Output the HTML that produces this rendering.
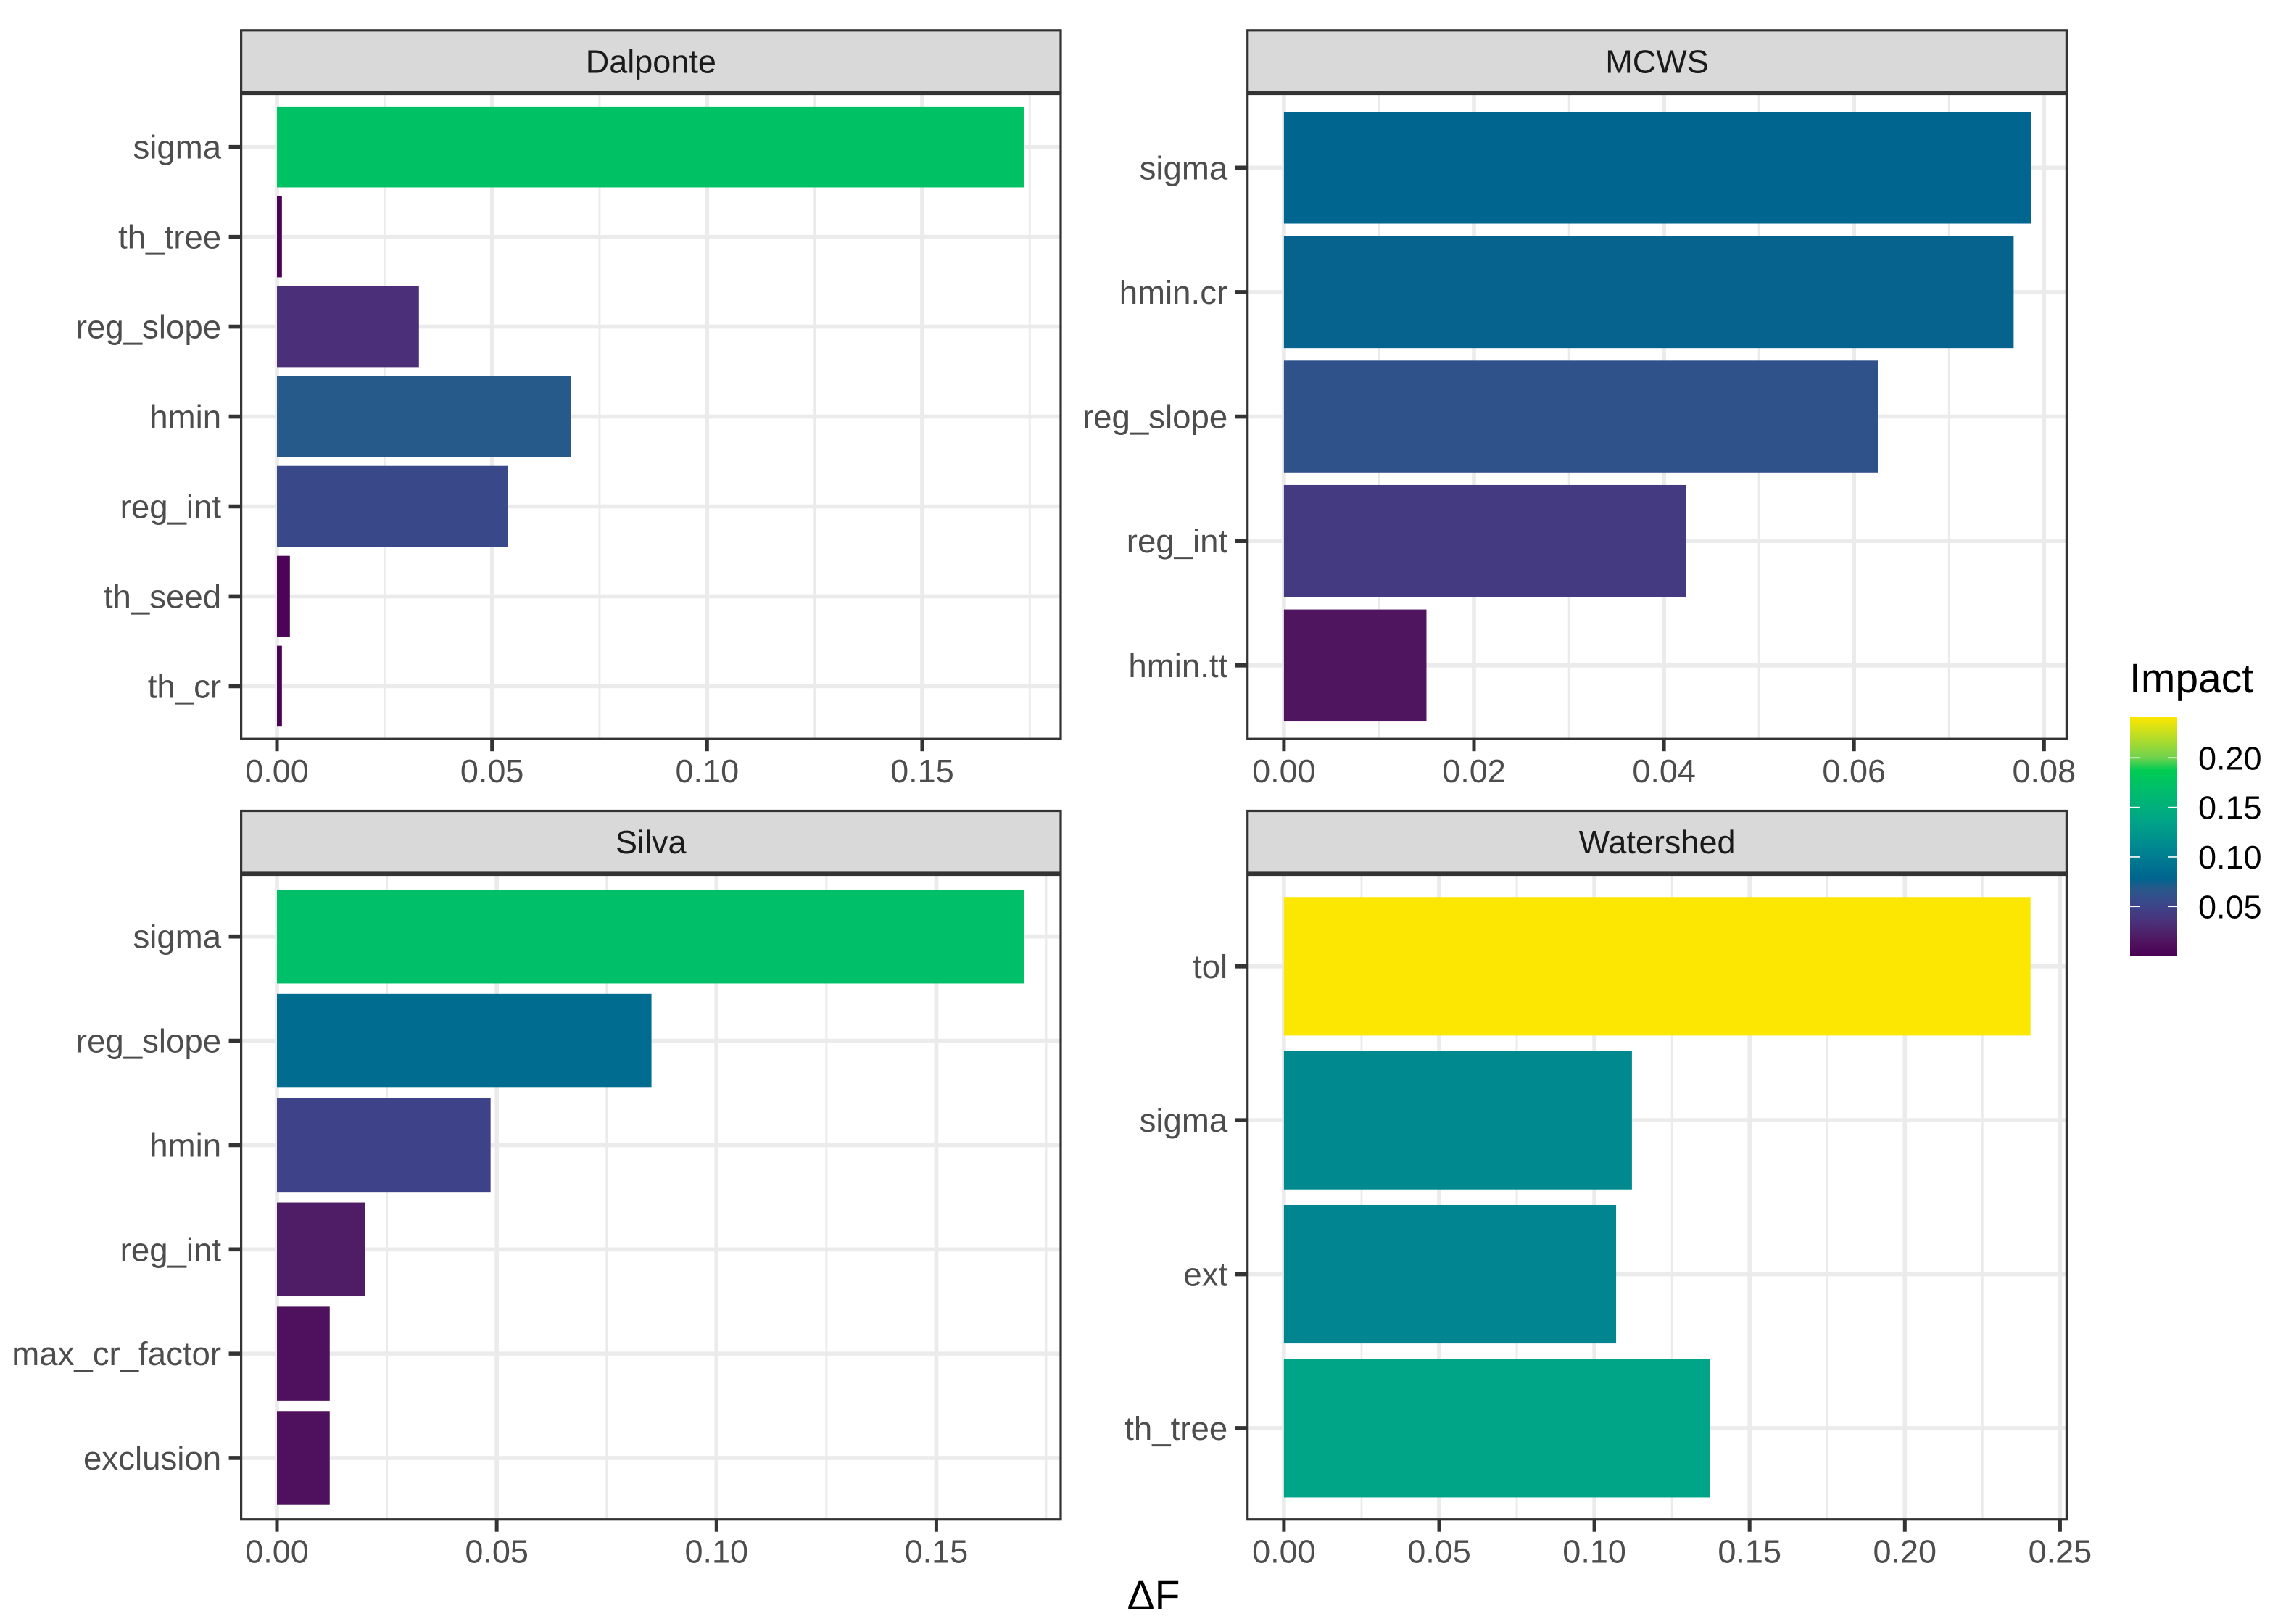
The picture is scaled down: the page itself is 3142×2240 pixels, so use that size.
<!DOCTYPE html>
<html lang="en">
<head>
<meta charset="utf-8">
<title>Parameter impact by algorithm</title>
<style>
  html, body { margin: 0; padding: 0; background: #ffffff; }
  svg { display: block; }
  text { font-family: "Liberation Sans", Arial, sans-serif; text-rendering: geometricPrecision; }
</style>
</head>
<body>
<svg id="chart" xmlns="http://www.w3.org/2000/svg" width="3142" height="2240" viewBox="0 0 3142 2240">
  <rect x="0" y="0" width="3142" height="2240" fill="#ffffff"/>
  <defs>
    <linearGradient id="impact-gradient" x1="0" y1="1" x2="0" y2="0"></linearGradient>
  </defs>
  <text x="1591" y="2220" font-size="57" text-anchor="middle" fill="#000000">ΔF</text>
  <text x="2937" y="955" font-size="57" fill="#000000">Impact</text>
</svg>
<script>
// ---- data ----
const dalponteParams = ['sigma', 'th_tree', 'reg_slope', 'hmin', 'reg_int', 'th_seed', 'th_cr'];
const dalponteValues = [0.1736, 0.00115, 0.033, 0.0684, 0.0536, 0.003, 0.00115];
const dalponteTicks = [0, 0.05, 0.10, 0.15];
const dalponteMinorTicks = [0.025, 0.075, 0.125, 0.175];
const dalponteDomain = [-0.00833, 0.1822];

const mcwsParams = ['sigma', 'hmin.cr', 'reg_slope', 'reg_int', 'hmin.tt'];
const mcwsValues = [0.0786, 0.0768, 0.0625, 0.0423, 0.015];
const mcwsTicks = [0, 0.02, 0.04, 0.06, 0.08];
const mcwsMinorTicks = [0.01, 0.03, 0.05, 0.07];
const mcwsDomain = [-0.00383, 0.08237];

const silvaParams = ['sigma', 'reg_slope', 'hmin', 'reg_int', 'max_cr_factor', 'exclusion'];
const silvaValues = [0.1699, 0.0852, 0.0486, 0.0201, 0.012, 0.012];
const silvaTicks = [0, 0.05, 0.10, 0.15];
const silvaMinorTicks = [0.025, 0.075, 0.125, 0.175];
const silvaDomain = [-0.00815, 0.1783];

const watershedParams = ['tol', 'sigma', 'ext', 'th_tree'];
const watershedValues = [0.2405, 0.1121, 0.107, 0.1372];
const watershedTicks = [0, 0.05, 0.10, 0.15, 0.20, 0.25];
const watershedMinorTicks = [0.025, 0.075, 0.125, 0.175, 0.225];
const watershedDomain = [-0.01172, 0.2521];

const legendTicks = [0.05, 0.10, 0.15, 0.20];
const legendDomain = [0, 0.2412];
const colorStopValues = [0, 0.015, 0.033, 0.0485, 0.0625, 0.0685, 0.078, 0.107, 0.137, 0.17, 0.1876, 0.2, 0.2412];
const colorStopHex = ['#4B0055', '#50155F', '#4B2F78', '#3E4288', '#30528A', '#265A8A', '#00648F', '#008591', '#00A587', '#00BF69', '#00CC52', '#6FD24E', '#FDE700'];

// ---- helpers ----
const SVGNS = 'http://www.w3.org/2000/svg';
const root = document.getElementById('chart');

function make(tag, attrs, parent) {
  const el = document.createElementNS(SVGNS, tag);
  for (const k in attrs) el.setAttribute(k, attrs[k]);
  parent.appendChild(el);
  return el;
}
function hexToRgb(h) {
  return [parseInt(h.slice(1, 3), 16), parseInt(h.slice(3, 5), 16), parseInt(h.slice(5, 7), 16)];
}
function colorFor(v) {
  const c = Math.max(colorStopValues[0], Math.min(colorStopValues[colorStopValues.length - 1], v));
  for (let i = 1; i < colorStopValues.length; i++) {
    if (c <= colorStopValues[i]) {
      const t = (c - colorStopValues[i - 1]) / (colorStopValues[i] - colorStopValues[i - 1]);
      const a = hexToRgb(colorStopHex[i - 1]);
      const b = hexToRgb(colorStopHex[i]);
      const m = a.map((x, j) => Math.round(x + (b[j] - x) * t));
      return 'rgb(' + m.join(',') + ')';
    }
  }
  return colorStopHex[colorStopHex.length - 1];
}
function linearScale(domain, range) {
  return v => range[0] + (v - domain[0]) / (domain[1] - domain[0]) * (range[1] - range[0]);
}
function bandScale(n, top, bottom) {
  const step = (bottom - top) / (n - 1 + 1.2);
  return {
    center: i => top + (0.6 + i) * step,
    bandHeight: 0.9 * step
  };
}

// ---- panel drawing ----
function drawPanel(cfg) {
  const g = make('g', {}, root);
  
  

  const x = linearScale(cfg.domain, [cfg.left, cfg.right]);
  const y = bandScale(cfg.params.length, cfg.bandTop, cfg.bandBottom);

  cfg.minor.forEach(t => {
    const line = make('line', { x1: x(t), x2: x(t), y1: cfg.top, y2: cfg.bottom, stroke: '#ebebeb', 'stroke-width': 2.8 }, g);
    
    
  });
  cfg.ticks.forEach(t => {
    const line = make('line', { x1: x(t), x2: x(t), y1: cfg.top, y2: cfg.bottom, stroke: '#ebebeb', 'stroke-width': 5.6 }, g);
    
    
  });
  cfg.params.forEach((p, i) => {
    const line = make('line', { x1: cfg.left, x2: cfg.right, y1: y.center(i), y2: y.center(i), stroke: '#ebebeb', 'stroke-width': 5.6 }, g);
    
    
  });

  cfg.params.forEach((p, i) => {
    const v = cfg.values[i];
    const bar = make('rect', {
      x: x(0),
      y: y.center(i) - y.bandHeight / 2,
      width: x(v) - x(0),
      height: y.bandHeight,
      fill: colorFor(v)
    }, g);
    
    
  });

  const border = make('rect', {
    x: cfg.left, y: cfg.top + 1, width: cfg.right - cfg.left, height: cfg.bottom - cfg.top - 1,
    fill: 'none', stroke: '#333333', 'stroke-width': 3.2
  }, g);
  
  

  const strip = make('rect', {
    x: cfg.left, y: cfg.stripTop, width: cfg.right - cfg.left, height: cfg.top - 1.5 - cfg.stripTop,
    fill: '#d9d9d9', stroke: '#333333', 'stroke-width': 3.2
  }, g);
  
  

  const stripLabel = make('text', {
    x: (cfg.left + cfg.right) / 2, y: cfg.stripTop + 58.5,
    'font-size': 45, 'text-anchor': 'middle', fill: '#1a1a1a'
  }, g);
  stripLabel.textContent = cfg.title;
  
  

  cfg.params.forEach((p, i) => {
    const tick = make('line', { x1: cfg.left - 17, x2: cfg.left, y1: y.center(i), y2: y.center(i), stroke: '#333333', 'stroke-width': 5.6 }, g);
    
    
    const label = make('text', {
      x: cfg.left - 27.5, y: y.center(i) + 16,
      'font-size': 45.6, 'text-anchor': 'end', fill: '#4d4d4d'
    }, g);
    label.textContent = p;
    
    
  });

  cfg.ticks.forEach(t => {
    const tick = make('line', { x1: x(t), x2: x(t), y1: cfg.bottom, y2: cfg.bottom + 17, stroke: '#333333', 'stroke-width': 5 }, g);
    
    
    const label = make('text', {
      x: x(t), y: cfg.bottom + 60,
      'font-size': 45, 'text-anchor': 'middle', fill: '#4d4d4d'
    }, g);
    label.textContent = t.toFixed(2);
    
    
  });
}

drawPanel({ key: 'dalponte', title: 'Dalponte', params: dalponteParams, values: dalponteValues, ticks: dalponteTicks, minor: dalponteMinorTicks, domain: dalponteDomain, left: 332.6, right: 1463, top: 128.5, bottom: 1019.2, bandTop: 128.3, bandBottom: 1020.8, stripTop: 41.8 });
drawPanel({ key: 'mcws', title: 'MCWS', params: mcwsParams, values: mcwsValues, ticks: mcwsTicks, minor: mcwsMinorTicks, domain: mcwsDomain, left: 1720.7, right: 2850.4, top: 128.5, bottom: 1019.2, bandTop: 128.3, bandBottom: 1020.8, stripTop: 41.8 });
drawPanel({ key: 'silva', title: 'Silva', params: silvaParams, values: silvaValues, ticks: silvaTicks, minor: silvaMinorTicks, domain: silvaDomain, left: 332.6, right: 1463, top: 1205.5, bottom: 2095.7, bandTop: 1205.4, bandBottom: 2097.3, stripTop: 1118.5 });
drawPanel({ key: 'watershed', title: 'Watershed', params: watershedParams, values: watershedValues, ticks: watershedTicks, minor: watershedMinorTicks, domain: watershedDomain, left: 1720.7, right: 2850.4, top: 1205.5, bottom: 2095.7, bandTop: 1205.4, bandBottom: 2097.3, stripTop: 1118.5 });

// ---- colour legend ----
const gradient = document.getElementById('impact-gradient');
colorStopValues.forEach((v, i) => {
  const stop = make('stop', {
    offset: (v - legendDomain[0]) / (legendDomain[1] - legendDomain[0]),
    'stop-color': colorStopHex[i]
  }, gradient);
});

const legendLeft = 2938;
const legendRight = 3003;
const legendTop = 989;
const legendBottom = 1318.6;
const legendY = linearScale(legendDomain, [legendBottom, legendTop]);

const legendGroup = make('g', {}, root);



const colorbar = make('rect', {
  x: legendLeft, y: legendTop, width: legendRight - legendLeft, height: legendBottom - legendTop,
  fill: 'url(#impact-gradient)'
}, legendGroup);



legendTicks.forEach(t => {
  const left = make('line', { x1: legendLeft, x2: legendLeft + 13, y1: legendY(t), y2: legendY(t), stroke: '#ffffff', 'stroke-width': 1.6 }, legendGroup);
  
  
  const right = make('line', { x1: legendRight - 13, x2: legendRight, y1: legendY(t), y2: legendY(t), stroke: '#ffffff', 'stroke-width': 1.6 }, legendGroup);
  
  
  const label = make('text', { x: 3032, y: legendY(t) + 16, 'font-size': 45, fill: '#000000' }, legendGroup);
  label.textContent = t.toFixed(2);
  
  
});
</script>
</body>
</html>
